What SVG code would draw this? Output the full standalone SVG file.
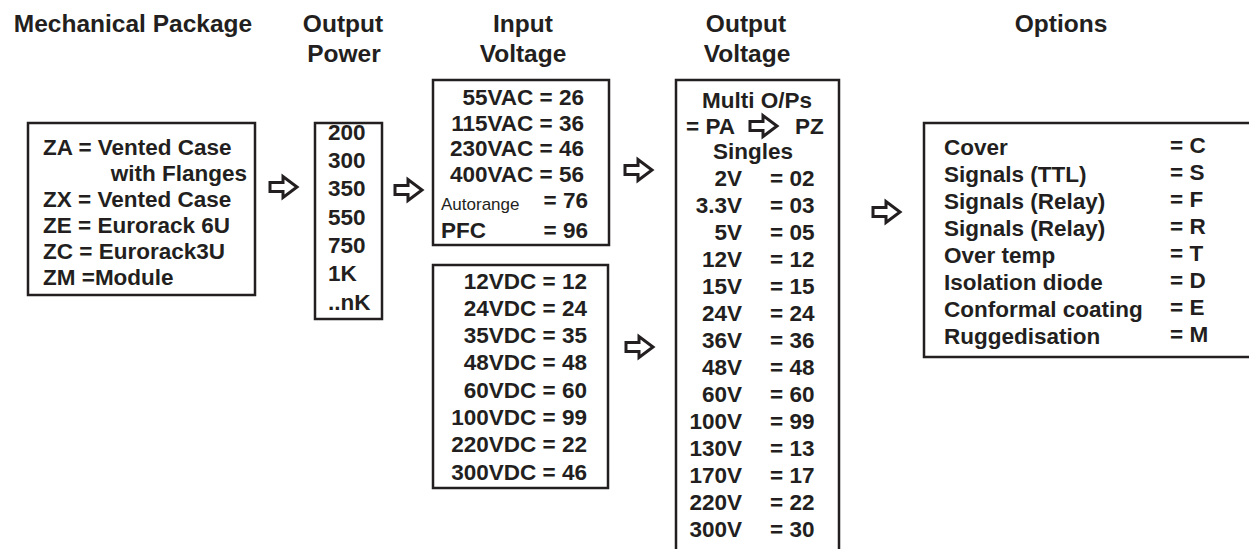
<svg xmlns="http://www.w3.org/2000/svg" width="1249" height="549" viewBox="0 0 1249 549">
<defs>
<style>
text{font-family:"Liberation Sans",Arial,Helvetica,sans-serif;font-weight:bold;fill:#231f20;}
.t{font-size:24.5px;text-anchor:middle;}
.b{font-size:22.5px;}
.e{text-anchor:end;}
.m{text-anchor:middle;}
.r{font-weight:normal;font-size:17px;}
.box{fill:#fff;stroke:#231f20;stroke-width:2.5;}
.arr{fill:#fff;stroke:#231f20;stroke-width:3;stroke-linejoin:miter;}
</style>
<path id="a" d="M-13,-4.5H0V-10.5L14,0L0,10.5V4.5H-13Z"/>
</defs>
<rect width="1249" height="549" fill="#fff"/>
<g id="titles">
<text class="t" x="133" y="32">Mechanical Package</text>
<text class="t" x="343" y="32">Output</text>
<text class="t" x="344" y="62">Power</text>
<text class="t" x="523" y="32">Input</text>
<text class="t" x="523" y="62">Voltage</text>
<text class="t" x="746" y="32">Output</text>
<text class="t" x="747" y="62">Voltage</text>
<text class="t" x="1061" y="32">Options</text>
</g>
<g id="mechanical">
<rect class="box" x="28" y="123" width="227" height="172"/>
<text class="b" x="43" y="155">ZA = Vented Case</text>
<text class="b e" x="247" y="181">with Flanges</text>
<text class="b" x="43" y="207">ZX = Vented Case</text>
<text class="b" x="43" y="233">ZE = Eurorack 6U</text>
<text class="b" x="43" y="259">ZC = Eurorack3U</text>
<text class="b" x="43" y="285">ZM =Module</text>
</g>
<g id="power">
<rect class="box" x="315" y="123" width="67" height="196"/>
<text class="b" x="328" y="140">200</text>
<text class="b" x="328" y="168">300</text>
<text class="b" x="328" y="196">350</text>
<text class="b" x="328" y="225">550</text>
<text class="b" x="328" y="253">750</text>
<text class="b" x="328" y="281">1K</text>
<text class="b" x="328" y="310">..nK</text>
</g>
<g id="input-ac">
<rect class="box" x="433" y="80" width="176" height="165"/>
<text class="b e" x="584" y="105">55VAC = 26</text>
<text class="b e" x="584" y="131">115VAC = 36</text>
<text class="b e" x="584" y="156">230VAC = 46</text>
<text class="b e" x="584" y="182">400VAC = 56</text>
<text class="r" x="441" y="210">Autorange</text>
<text class="b e" x="588" y="208">= 76</text>
<text class="b" x="441" y="238">PFC</text>
<text class="b e" x="588" y="238">= 96</text>
</g>
<g id="input-dc">
<rect class="box" x="433" y="265" width="175" height="223"/>
<text class="b e" x="587" y="289">12VDC = 12</text>
<text class="b e" x="587" y="316">24VDC = 24</text>
<text class="b e" x="587" y="343">35VDC = 35</text>
<text class="b e" x="587" y="370">48VDC = 48</text>
<text class="b e" x="587" y="398">60VDC = 60</text>
<text class="b e" x="587" y="425">100VDC = 99</text>
<text class="b e" x="587" y="452">220VDC = 22</text>
<text class="b e" x="587" y="480">300VDC = 46</text>
</g>
<g id="output-voltage">
<rect class="box" x="676" y="80" width="163" height="475"/>
<text class="b m" x="757" y="108">Multi O/Ps</text>
<text class="b" x="686" y="134">= PA</text>
<use href="#a" class="arr" x="763" y="126"/>
<text class="b" x="795" y="134">PZ</text>
<text class="b m" x="753" y="159">Singles</text>
<text class="b e" x="742" y="186">2V</text><text class="b" x="770" y="186">= 02</text>
<text class="b e" x="742" y="213">3.3V</text><text class="b" x="770" y="213">= 03</text>
<text class="b e" x="742" y="240">5V</text><text class="b" x="770" y="240">= 05</text>
<text class="b e" x="742" y="267">12V</text><text class="b" x="770" y="267">= 12</text>
<text class="b e" x="742" y="294">15V</text><text class="b" x="770" y="294">= 15</text>
<text class="b e" x="742" y="321">24V</text><text class="b" x="770" y="321">= 24</text>
<text class="b e" x="742" y="348">36V</text><text class="b" x="770" y="348">= 36</text>
<text class="b e" x="742" y="375">48V</text><text class="b" x="770" y="375">= 48</text>
<text class="b e" x="742" y="402">60V</text><text class="b" x="770" y="402">= 60</text>
<text class="b e" x="742" y="429">100V</text><text class="b" x="770" y="429">= 99</text>
<text class="b e" x="742" y="456">130V</text><text class="b" x="770" y="456">= 13</text>
<text class="b e" x="742" y="483">170V</text><text class="b" x="770" y="483">= 17</text>
<text class="b e" x="742" y="510">220V</text><text class="b" x="770" y="510">= 22</text>
<text class="b e" x="742" y="537">300V</text><text class="b" x="770" y="537">= 30</text>
</g>
<g id="options">
<rect class="box" x="924" y="123" width="340" height="234"/>
<text class="b" x="944" y="155">Cover</text><text class="b" x="1170" y="153">= C</text>
<text class="b" x="944" y="182">Signals (TTL)</text><text class="b" x="1170" y="180">= S</text>
<text class="b" x="944" y="209">Signals (Relay)</text><text class="b" x="1170" y="207">= F</text>
<text class="b" x="944" y="236">Signals (Relay)</text><text class="b" x="1170" y="234">= R</text>
<text class="b" x="944" y="263">Over temp</text><text class="b" x="1170" y="261">= T</text>
<text class="b" x="944" y="290">Isolation diode</text><text class="b" x="1170" y="288">= D</text>
<text class="b" x="944" y="317">Conformal coating</text><text class="b" x="1170" y="315">= E</text>
<text class="b" x="944" y="344">Ruggedisation</text><text class="b" x="1170" y="342">= M</text>
</g>
<g id="connectors">
<use href="#a" class="arr" x="283" y="187"/>
<use href="#a" class="arr" x="408" y="190"/>
<use href="#a" class="arr" x="638" y="170"/>
<use href="#a" class="arr" x="639" y="347"/>
<use href="#a" class="arr" x="886" y="212"/>
</g>
</svg>
